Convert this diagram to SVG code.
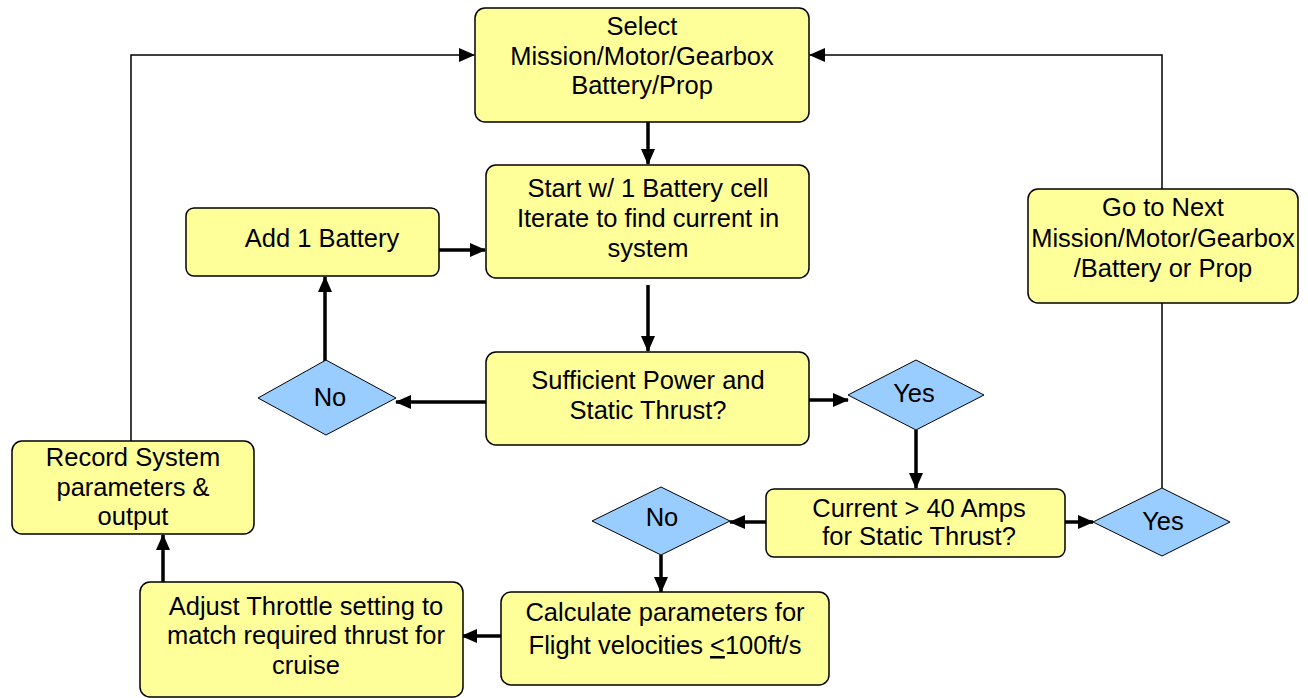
<svg xmlns="http://www.w3.org/2000/svg" width="1308" height="698" viewBox="0 0 1308 698">
  <style>
    .box { fill: #FFFF99; stroke: #000; stroke-width: 1.5; }
    .dia { fill: #99CCFF; stroke: #000; stroke-width: 1; }
    .lbl { font-family: "Liberation Sans", Arial, sans-serif; font-size: 25.5px; fill: #000; text-anchor: middle; }
    .thick { fill: none; stroke: #000; stroke-width: 3.5; }
    .thin { fill: none; stroke: #000; stroke-width: 1.5; }
  </style>
  <defs>
    <marker id="ah" markerUnits="userSpaceOnUse" markerWidth="16" markerHeight="16" viewBox="0 0 16 16" refX="15" refY="8" orient="auto">
      <path d="M0,1 L16,8 L0,15 Z" fill="#000"/>
    </marker>
  </defs>
  <rect width="1308" height="698" fill="#fff"/>

  <!-- connectors -->
  <g id="connectors">
    <line class="thick" x1="648" y1="122" x2="648" y2="164" marker-end="url(#ah)"/>
    <line class="thick" x1="439" y1="250" x2="485" y2="250" marker-end="url(#ah)"/>
    <line class="thick" x1="648" y1="285" x2="648" y2="351" marker-end="url(#ah)"/>
    <line class="thick" x1="486" y1="402" x2="396" y2="402" marker-end="url(#ah)"/>
    <line class="thick" x1="325" y1="362" x2="325" y2="277" marker-end="url(#ah)"/>
    <line class="thick" x1="809" y1="400" x2="848" y2="400" marker-end="url(#ah)"/>
    <line class="thick" x1="916" y1="430" x2="916" y2="488" marker-end="url(#ah)"/>
    <line class="thick" x1="766" y1="522" x2="730" y2="522" marker-end="url(#ah)"/>
    <line class="thick" x1="1065" y1="522" x2="1093" y2="522" marker-end="url(#ah)"/>
    <line class="thick" x1="661" y1="555" x2="661" y2="592" marker-end="url(#ah)"/>
    <line class="thick" x1="501" y1="636" x2="462" y2="636" marker-end="url(#ah)"/>
    <line class="thick" x1="163" y1="582" x2="163" y2="535" marker-end="url(#ah)"/>
    <polyline class="thin" points="131,441 131,55 474,55" marker-end="url(#ah)"/>
    <line class="thin" x1="1162" y1="488" x2="1162" y2="303"/>
    <polyline class="thin" points="1162,189 1162,55 810,55" marker-end="url(#ah)"/>
  </g>

  <g id="select">
    <rect class="box" x="475" y="8" width="334" height="114" rx="10"/>
    <text class="lbl" x="642" y="35">Select</text>
    <text class="lbl" x="642" y="65">Mission/Motor/Gearbox</text>
    <text class="lbl" x="642" y="94">Battery/Prop</text>
  </g>

  <g id="start">
    <rect class="box" x="486" y="165" width="323" height="113" rx="10"/>
    <text class="lbl" x="648" y="197">Start w/ 1 Battery cell</text>
    <text class="lbl" x="648" y="227">Iterate to find current in</text>
    <text class="lbl" x="648" y="257">system</text>
  </g>

  <g id="add-battery">
    <rect class="box" x="186" y="208" width="253" height="68" rx="8"/>
    <text class="lbl" x="322" y="247">Add 1 Battery</text>
  </g>

  <g id="sufficient">
    <rect class="box" x="486" y="352" width="323" height="93" rx="10"/>
    <text class="lbl" x="648" y="389">Sufficient Power and</text>
    <text class="lbl" x="648" y="419">Static Thrust?</text>
  </g>

  <g id="no-power">
    <polygon class="dia" points="258,398 326,360 396,398 326,435"/>
    <text class="lbl" x="330" y="406">No</text>
  </g>

  <g id="yes-power">
    <polygon class="dia" points="848,395 916,360 984,395 916,430"/>
    <text class="lbl" x="914" y="402">Yes</text>
  </g>

  <g id="current">
    <rect class="box" x="766" y="489" width="299" height="68" rx="8"/>
    <text class="lbl" x="919" y="517">Current &gt; 40 Amps</text>
    <text class="lbl" x="919" y="545">for Static Thrust?</text>
  </g>

  <g id="no-current">
    <polygon class="dia" points="592,521 661,487 730,521 661,555"/>
    <text class="lbl" x="662" y="526">No</text>
  </g>

  <g id="yes-current">
    <polygon class="dia" points="1093,522 1162,488 1230,522 1162,556"/>
    <text class="lbl" x="1163" y="530">Yes</text>
  </g>

  <g id="next">
    <rect class="box" x="1028" y="189" width="270" height="114" rx="10"/>
    <text class="lbl" x="1163" y="216">Go to Next</text>
    <text class="lbl" x="1163" y="247">Mission/Motor/Gearbox</text>
    <text class="lbl" x="1163" y="277">/Battery or Prop</text>
  </g>

  <g id="calculate">
    <rect class="box" x="501" y="592" width="328" height="93" rx="10"/>
    <text class="lbl" x="665" y="621">Calculate parameters for</text>
    <text class="lbl" x="665" y="654">Flight velocities <tspan text-decoration="underline">&lt;</tspan>100ft/s</text>
  </g>

  <g id="adjust">
    <rect class="box" x="140" y="582" width="323" height="115" rx="10"/>
    <text class="lbl" x="306" y="615">Adjust Throttle setting to</text>
    <text class="lbl" x="306" y="644">match required thrust for</text>
    <text class="lbl" x="306" y="674">cruise</text>
  </g>

  <g id="record">
    <rect class="box" x="12" y="441" width="242" height="93" rx="10"/>
    <text class="lbl" x="133" y="466">Record System</text>
    <text class="lbl" x="133" y="496">parameters &amp;</text>
    <text class="lbl" x="133" y="525">output</text>
  </g>
</svg>
